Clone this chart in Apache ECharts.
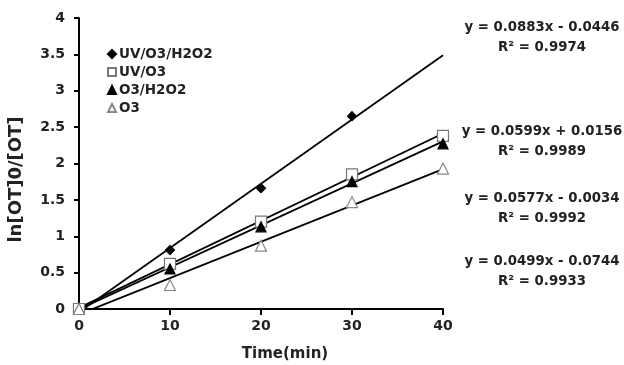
<!DOCTYPE html>
<html>
<head>
<meta charset="utf-8">
<script src="https://cdn.jsdelivr.net/npm/echarts@6/dist/echarts.min.js"></script>
<style>
  html, body { margin: 0; padding: 0; background: #fff; }
  #chart { width: 624px; height: 365px; }
</style>
</head>
<body>
<div id="chart"></div>
<script>
var times = [0, 10, 20, 30, 40];
var seriesNames = ['UV/O3/H2O2', 'UV/O3', 'O3/H2O2', 'O3'];
var uvO3H2O2 = [0, 0.81, 1.66, 2.65, null];
var uvO3 = [0, 0.62, 1.20, 1.85, 2.38];
var o3H2O2 = [0, 0.55, 1.13, 1.75, 2.27];
var o3 = [0, 0.33, 0.87, 1.47, 1.93];
// trend line equations as printed on the chart
var slopes = [0.0883, 0.0599, 0.0577, 0.0499];
var intercepts = [-0.0446, 0.0156, -0.0034, -0.0744];
var eqLabels = [
  ['y = 0.0883x - 0.0446', 'R² = 0.9974'],
  ['y = 0.0599x + 0.0156', 'R² = 0.9989'],
  ['y = 0.0577x - 0.0034', 'R² = 0.9992'],
  ['y = 0.0499x - 0.0744', 'R² = 0.9933']
];
var eqY = [28, 132, 199, 262];

var values = [uvO3H2O2, uvO3, o3H2O2, o3];
var symbols = ['diamond', 'rect', 'triangle', 'triangle'];
var symbolSizes = [9, 11, 10, 11];
var fills = ['#000', '#fff', '#000', '#fff'];
var borders = ['#000', '#777', '#000', '#888'];
var font = '"DejaVu Sans", Verdana, sans-serif';

var series = [];
for (var i = 0; i < 4; i++) {
  // trend line from the fitted equation, drawn across the x range
  series.push({
    type: 'line',
    silent: true,
    clip: true,
    symbol: 'none',
    lineStyle: { color: '#000', width: 1.8 },
    data: [[0, intercepts[i]], [40, slopes[i] * 40 + intercepts[i]]],
    z: 2
  });
}
for (var j = 0; j < 4; j++) {
  var pts = [];
  for (var k = 0; k < times.length; k++) {
    if (values[j][k] != null) pts.push([times[k], values[j][k]]);
  }
  series.push({
    name: seriesNames[j],
    type: 'scatter',
    clip: false,
    symbol: symbols[j],
    symbolSize: symbolSizes[j],
    itemStyle: { color: fills[j], borderColor: borders[j], borderWidth: 1.2, opacity: 1 },
    data: pts,
    z: 5
  });
}

var graphics = [];
for (var g = 0; g < eqLabels.length; g++) {
  for (var r = 0; r < 2; r++) {
    graphics.push({
      type: 'text',
      x: 542,
      y: eqY[g] + r * 20,
      style: {
        text: eqLabels[g][r],
        font: 'bold 13.3px ' + font,
        fill: '#222',
        align: 'center',
        verticalAlign: 'middle'
      }
    });
  }
}

var option = {
  backgroundColor: '#fff',
  animation: false,
  grid: { left: 79, right: 181, top: 18, bottom: 56, outerBoundsMode: 'none' },
  legend: {
    orient: 'vertical',
    left: 102,
    top: 42,
    itemWidth: 8,
    itemHeight: 8,
    itemGap: 4,
    data: seriesNames,
    textStyle: { color: '#222', fontSize: 13.5, fontWeight: 'bold', fontFamily: font, padding: [0, 0, 0, -2] }
  },
  xAxis: {
    type: 'value',
    min: 0,
    max: 40,
    interval: 10,
    name: 'Time(min)',
    nameLocation: 'middle',
    nameGap: 38,
    nameTextStyle: { color: '#222', fontSize: 15, fontWeight: 'bold', fontFamily: font, padding: [0, 0, 0, 48] },
    axisLine: { lineStyle: { color: '#000', width: 2 } },
    axisTick: { length: 6, lineStyle: { color: '#000', width: 2 } },
    axisLabel: { color: '#222', fontSize: 14, fontWeight: 'bold', margin: 10, fontFamily: font },
    splitLine: { show: false }
  },
  yAxis: {
    type: 'value',
    min: 0,
    max: 4,
    interval: 0.5,
    name: 'ln[OT]0/[OT]',
    nameLocation: 'middle',
    nameGap: 54,
    nameTextStyle: { color: '#222', fontSize: 18, fontWeight: 'bold', fontFamily: font, padding: [0, 32, 0, 0] },
    axisLine: { show: true, lineStyle: { color: '#000', width: 2 } },
    axisTick: { show: true, length: 5, lineStyle: { color: '#000', width: 2 } },
    axisLabel: { color: '#222', fontSize: 14, fontWeight: 'bold', margin: 14, fontFamily: font },
    splitLine: { show: false }
  },
  graphic: graphics,
  series: series
};

var chart = echarts.init(document.getElementById('chart'));
chart.setOption(option);
window.addEventListener('resize', function () {
  chart.resize();
});
</script>
</body>
</html>
